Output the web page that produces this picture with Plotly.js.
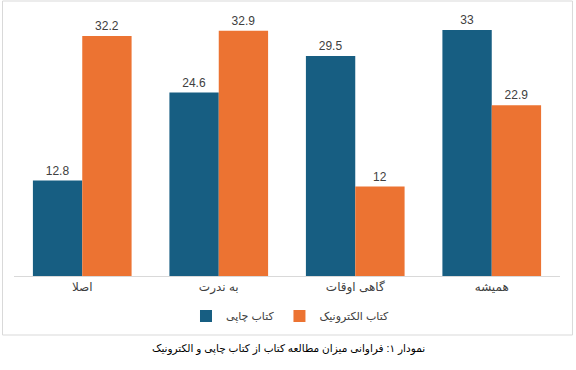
<!DOCTYPE html>
<html>
<head>
<meta charset="utf-8">
<script src="https://cdn.plot.ly/plotly-3.0.1.min.js"></script>
<style>html,body{margin:0;padding:0;background:#fff;}#chart{width:576px;height:370px;}</style>
</head>
<body>
<div id="chart"></div>
<script>
const categories = ["اصلا", "به ندرت", "گاهی اوقات", "همیشه"];
const printValues = [12.8, 24.6, 29.5, 33];
const ebookValues = [32.2, 32.9, 12, 22.9];
const seriesNames = ["کتاب چاپی", "کتاب الکترونیک"];
const caption = "نمودار ۱: فراوانی میزان مطالعه کتاب از کتاب چاپی و الکترونیک";

const font = "Liberation Sans, DejaVu Sans, sans-serif";
const labelFont = {family: font, size: 12, color: "#404040"};

const traces = [
  {type: "bar", name: seriesNames[0], x: categories, y: printValues,
   marker: {color: "#175e82"}, text: printValues.map(String),
   textposition: "outside", textfont: labelFont, cliponaxis: false, hoverinfo: "none"},
  {type: "bar", name: seriesNames[1], x: categories, y: ebookValues,
   marker: {color: "#ec7332"}, text: ebookValues.map(String),
   textposition: "outside", textfont: labelFont, cliponaxis: false, hoverinfo: "none"}
];

const W = 576, H = 370, L = 13.5, R = 15.5, T = 15, B = 94;
const pw = W - L - R, ph = H - T - B;
const px = x => (x - L) / pw;
const py = y => (H - B - y) / ph;

const layout = {
  width: W, height: H,
  margin: {l: L, r: R, t: T, b: B, pad: 0},
  paper_bgcolor: "#fff", plot_bgcolor: "#fff",
  barmode: "group", bargap: 0.277, bargroupgap: 0,
  showlegend: true,
  legend: {orientation: "h", x: px(290), xanchor: "center", y: py(316), yanchor: "middle",
           itemwidth: 30,
           font: {family: font, size: 11, color: "#404040"}, traceorder: "normal"},
  xaxis: {showline: true, linecolor: "#d9d9d9", linewidth: 1, ticks: "",
          tickfont: {family: font, size: 12, color: "#404040"}, fixedrange: true},
  yaxis: {visible: false, range: [0, 35], showgrid: false, zeroline: false, fixedrange: true},
  shapes: [{type: "rect", xref: "paper", yref: "paper",
            x0: px(2), x1: px(573), y0: py(335), y1: py(1),
            line: {color: "#d9d9d9", width: 1}, fillcolor: "rgba(0,0,0,0)", layer: "below"}],
  annotations: [{text: caption, xref: "paper", yref: "paper", x: px(289), y: py(348),
                 xanchor: "center", yanchor: "middle", showarrow: false,
                 font: {family: font, size: 10.5, color: "#000"}}]
};

Plotly.newPlot("chart", traces, layout, {displayModeBar: false, staticPlot: true});
</script>
</body>
</html>
